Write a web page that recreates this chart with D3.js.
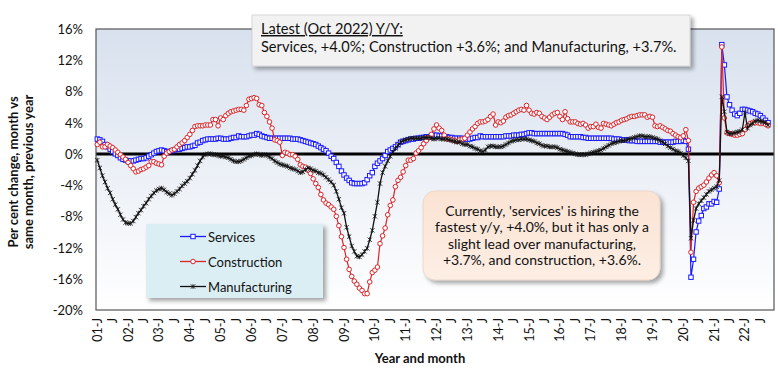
<!DOCTYPE html>
<html><head><meta charset="utf-8">
<script src="https://cdn.jsdelivr.net/npm/d3@7"></script>
<style>
body{margin:0;background:#fff;}
svg{display:block;font-family:Lato,"Open Sans",sans-serif;}
</style></head><body>
<svg id="chart" width="778" height="368"></svg>
<script>
// ---------- DATA ----------
const years = ["01","02","03","04","05","06","07","08","09","10","11","12","13","14","15","16","17","18","19","20","21","22"];
const monthLetters = ["J","F","M","A","M","J","J","A","S","O","N","D"];
const monthsInLastYear = 10; // Jan..Oct 2022
const yTicks = [16,12,8,4,0,-4,-8,-12,-16,-20];
const seriesNames = ["Services","Construction","Manufacturing"];

const services = [
 1.9,1.8,1.6,1.2,0.9,0.6,0.3,0.0,-0.2,-0.5,-0.7,-0.8,
 -0.9,-0.9,-0.9,-0.8,-0.7,-0.6,-0.6,-0.5,-0.3,-0.1,0.1,0.3,
 0.4,0.5,0.4,0.3,0.3,0.4,0.5,0.6,0.6,0.7,0.8,0.9,
 0.9,1.0,1.1,1.4,1.5,1.7,1.8,1.9,1.9,1.9,1.9,2.0,
 2.0,1.9,1.9,1.9,2.0,2.1,2.1,2.3,2.2,2.2,2.2,2.3,
 2.4,2.4,2.6,2.5,2.3,2.2,2.1,2.0,2.0,2.0,2.0,2.0,
 2.0,2.0,2.0,2.0,1.9,1.9,1.9,1.8,1.7,1.6,1.5,1.4,
 1.3,1.2,1.0,0.8,0.6,0.4,0.1,-0.3,-0.6,-1.1,-1.6,-2.2,
 -2.7,-3.1,-3.4,-3.7,-3.8,-3.8,-3.8,-3.8,-3.7,-3.3,-2.8,-2.4,
 -1.6,-1.2,-0.9,-0.6,-0.2,0.3,0.5,0.7,0.9,1.2,1.5,1.6,
 1.7,1.8,1.9,1.9,2.0,2.0,2.1,2.1,2.2,2.2,2.3,2.4,
 2.4,2.3,2.3,2.2,2.2,2.1,2.1,2.0,2.0,2.0,2.0,1.9,
 1.9,1.9,2.0,2.1,2.1,2.3,2.2,2.2,2.2,2.2,2.2,2.2,
 2.2,2.2,2.2,2.3,2.3,2.3,2.4,2.4,2.4,2.5,2.5,2.6,
 2.7,2.7,2.6,2.6,2.6,2.6,2.6,2.6,2.6,2.6,2.6,2.6,
 2.6,2.6,2.5,2.4,2.2,2.2,2.2,2.2,2.2,2.1,2.1,2.0,
 2.0,2.0,2.0,2.0,2.0,2.0,2.0,2.0,2.0,1.9,1.9,1.9,
 1.8,1.8,1.8,1.7,1.7,1.7,1.6,1.6,1.6,1.6,1.6,1.6,
 1.6,1.6,1.6,1.5,1.5,1.5,1.5,1.5,1.5,1.6,1.6,1.6,
 1.7,1.6,0.6,-15.8,-13.5,-10.0,-8.6,-7.9,-7.0,-6.8,-6.4,-6.4,
 -6.1,-6.2,-4.5,14.0,11.4,7.3,6.3,5.6,5.1,4.9,5.2,5.7,
 5.7,5.6,5.5,5.4,5.2,5.1,4.9,4.6,4.3,4.0
];

const construction = [
 1.2,1.5,0.9,0.9,1.2,1.0,0.8,0.5,0.2,-0.1,-0.4,-0.7,
 -1.1,-1.5,-1.9,-2.3,-2.2,-2.0,-1.9,-1.7,-1.5,-1.0,-1.0,-1.2,
 -1.3,-1.4,-0.3,0.1,0.3,0.5,0.6,0.9,1.2,1.4,1.7,2.1,
 2.5,3.0,3.5,3.6,3.6,3.6,3.7,3.7,3.7,4.4,4.4,3.6,
 4.6,4.4,4.9,5.2,5.4,5.5,5.6,5.7,5.7,5.6,6.2,7.0,
 7.1,7.2,7.1,6.3,6.2,5.3,4.8,4.1,3.3,1.8,1.7,1.5,
 -0.2,0.2,0.1,-0.1,-0.1,-0.3,-0.7,-1.4,-1.6,-1.7,-2.1,-2.5,
 -3.2,-3.8,-4.3,-5.2,-5.9,-6.3,-6.5,-6.8,-7.1,-8.0,-9.2,-10.6,
 -12.0,-13.5,-14.8,-15.7,-16.3,-16.7,-17.2,-17.5,-17.9,-17.9,-16.4,-15.2,
 -14.9,-14.5,-11.5,-10.5,-9.5,-7.8,-6.6,-5.9,-4.2,-3.4,-3.0,-2.3,
 -1.5,-0.8,-0.8,-0.6,0.1,0.4,0.8,1.3,1.7,2.1,2.5,3.2,
 3.7,3.3,3.0,2.4,1.9,1.9,1.8,1.7,1.6,1.8,1.9,2.0,
 2.4,2.8,3.2,3.5,3.9,4.1,4.1,4.2,4.4,4.8,5.1,3.7,
 4.1,4.0,4.2,4.7,4.9,5.0,5.2,5.4,5.6,5.7,5.6,6.2,
 5.6,5.2,5.1,5.3,5.2,4.8,4.6,4.4,4.7,5.0,5.2,5.3,
 4.8,4.4,5.4,4.5,4.1,4.1,4.1,3.9,3.8,3.9,3.7,3.3,
 3.5,3.5,3.8,3.4,3.3,3.9,3.8,3.7,3.6,3.8,4.0,4.1,
 4.3,4.4,4.5,4.7,4.8,4.8,4.9,5.0,5.0,5.0,4.7,4.8,
 4.7,3.6,3.5,3.6,3.4,3.2,3.0,2.9,2.6,2.4,2.2,2.1,
 2.3,3.1,1.7,-12.6,-6.2,-4.8,-4.4,-4.2,-4.0,-3.6,-3.1,-2.7,
 -2.4,-2.8,-3.7,13.7,4.6,2.7,2.6,2.5,2.4,2.4,2.5,2.6,
 3.1,3.6,3.9,4.0,4.0,4.0,3.9,3.9,3.8,3.6
];

const manufacturing = [
 -0.8,-1.8,-2.8,-3.6,-4.4,-5.0,-5.8,-6.5,-7.1,-7.8,-8.4,-8.8,
 -8.9,-8.9,-8.6,-8.1,-7.6,-7.2,-6.7,-6.3,-5.8,-5.4,-5.0,-4.7,
 -4.5,-4.4,-4.6,-4.9,-5.1,-5.3,-5.1,-4.8,-4.5,-4.1,-3.8,-3.5,
 -3.1,-2.6,-2.1,-1.5,-0.9,-0.4,-0.1,0.0,0.0,-0.1,-0.1,-0.2,
 -0.3,-0.3,-0.4,-0.5,-0.7,-0.9,-1.0,-1.0,-0.9,-0.7,-0.5,-0.3,
 -0.2,-0.1,0.0,-0.1,-0.2,-0.1,-0.2,-0.4,-0.6,-0.9,-1.1,-1.3,
 -1.4,-1.5,-1.6,-1.8,-1.9,-2.0,-2.2,-2.4,-2.3,-2.0,-1.8,-1.9,
 -2.1,-2.2,-2.4,-2.5,-2.7,-3.0,-3.3,-3.6,-4.0,-4.8,-5.8,-6.9,
 -7.6,-9.4,-10.6,-11.8,-12.5,-13.1,-13.2,-12.9,-12.5,-12.1,-11.0,-9.8,
 -8.0,-6.2,-3.8,-2.4,-1.6,-0.9,-0.3,0.2,0.7,1.1,1.5,1.7,
 1.8,1.9,2.0,2.0,2.0,2.0,2.0,2.1,2.1,2.1,2.0,1.9,
 2.0,2.0,1.9,1.9,1.9,1.8,1.7,1.6,1.5,1.5,1.3,1.2,
 1.2,1.0,0.9,0.7,0.6,0.4,0.3,0.5,0.9,1.0,1.0,0.9,
 0.9,0.9,1.0,1.2,1.4,1.6,1.7,1.8,1.8,1.9,1.9,1.9,
 1.8,1.7,1.6,1.4,1.3,1.1,1.0,1.0,0.9,0.9,0.9,0.8,
 0.6,0.5,0.4,0.3,0.2,0.1,0.0,-0.1,-0.1,-0.1,-0.1,0.0,
 0.1,0.2,0.3,0.4,0.5,0.7,0.9,1.1,1.3,1.4,1.5,1.6,
 1.7,1.7,1.8,1.9,2.0,2.1,2.2,2.3,2.3,2.2,2.2,2.2,
 2.1,2.0,1.9,1.7,1.5,1.3,1.0,0.8,0.6,0.4,0.3,0.1,
 -0.2,-0.5,-0.9,-10.8,-8.5,-7.0,-6.4,-6.0,-5.6,-5.2,-4.8,-4.6,
 -4.4,-4.2,-3.4,7.3,5.4,2.8,2.6,2.6,2.7,2.8,2.9,3.1,
 5.3,3.3,3.7,3.9,4.2,4.3,4.2,4.1,4.0,3.7
];

// ---------- BUILD CATEGORIES ----------
const categories = [];
years.forEach((y, yi) => {
  const n = yi === years.length - 1 ? monthsInLastYear : 12;
  for (let m = 0; m < n; m++) categories.push({key: y + "-" + m, label: m === 0 ? y + "-J" : (m === 6 ? "J" : null)});
});

// ---------- LAYOUT ----------
const svg = d3.select("#chart");
const plot = {left: 96, right: 774, top: 29, bottom: 310};
const step = 2.57;
const x = d3.scalePoint().domain(categories.map(d => d.key))
  .range([plot.left + 1.3, plot.left + 1.3 + step * (categories.length - 1)]);
const y = d3.scaleLinear().domain([-20, 16]).range([plot.bottom, plot.top]);

const defs = svg.append("defs");
const bg = defs.append("linearGradient").attr("id", "bg").attr("x1", 0).attr("y1", 0).attr("x2", 0).attr("y2", 1);
bg.append("stop").attr("offset", "0%").attr("stop-color", "#d8e1ee");
bg.append("stop").attr("offset", "100%").attr("stop-color", "#ffffff");
const peach = defs.append("linearGradient").attr("id", "peach").attr("x1", 0).attr("y1", 0).attr("x2", 0).attr("y2", 1);
peach.append("stop").attr("offset", "0%").attr("stop-color", "#fbe3d3");
peach.append("stop").attr("offset", "100%").attr("stop-color", "#fdeee4");
const sh = defs.append("filter").attr("id", "shadow").attr("x", "-10%").attr("y", "-10%").attr("width", "130%").attr("height", "140%");
sh.append("feDropShadow").attr("dx", 3).attr("dy", 3).attr("stdDeviation", 2).attr("flood-color", "#000").attr("flood-opacity", 0.35);

// plot background
svg.append("rect").attr("x", plot.left).attr("y", plot.top)
  .attr("width", plot.right - plot.left).attr("height", plot.bottom - plot.top)
  .attr("fill", "url(#bg)");

// y axis labels
const fmt = v => v + "%";
svg.append("g").selectAll("text").data(yTicks).join("text")
  .attr("x", 83).attr("y", d => y(d)).attr("text-anchor", "end")
  .attr("dominant-baseline", "central").attr("font-size", 13).attr("fill", "#111")
  .text(fmt);

// y axis title
const yt = svg.append("g").attr("font-size", 13).attr("font-weight", "bold").attr("fill", "#111");
yt.append("text").attr("transform", "translate(12.5,172) rotate(-90)").attr("text-anchor", "middle")
  .attr("dominant-baseline", "central").text("Per cent change, month vs");
yt.append("text").attr("transform", "translate(28,172) rotate(-90)").attr("text-anchor", "middle")
  .attr("dominant-baseline", "central").text("same month, previous year");

// x tick labels
svg.append("g").selectAll("text").data(categories.filter(d => d.label)).join("text")
  .attr("transform", d => `translate(${x(d.key)},318) rotate(-90)`)
  .attr("text-anchor", "end").attr("dominant-baseline", "central")
  .attr("font-size", 12.5).attr("fill", "#111").text(d => d.label);

// x axis title
svg.append("text").attr("x", 420).attr("y", 358).attr("text-anchor", "middle")
  .attr("dominant-baseline", "central").attr("font-size", 13).attr("font-weight", "bold")
  .attr("fill", "#111").text("Year and month");

// zero line
svg.append("line").attr("x1", plot.left).attr("x2", plot.right).attr("y1", y(0)).attr("y2", y(0))
  .attr("stroke", "#000").attr("stroke-width", 3);

// plot border
svg.append("rect").attr("x", plot.left).attr("y", plot.top)
  .attr("width", plot.right - plot.left).attr("height", plot.bottom - plot.top)
  .attr("fill", "none").attr("stroke", "#555").attr("stroke-width", 1.2);

// ---------- SERIES ----------
const line = d3.line().x((d, i) => x(categories[i].key)).y(d => y(d));
const colors = {Services: "#1a1aff", Construction: "#d8262b", Manufacturing: "#111"};
const starPath = "M-2.2,-2.2L2.2,2.2M-2.2,2.2L2.2,-2.2M0,-2.4L0,2.4";

function drawMarker(g, name) {
  if (name === "Services") {
    g.append("rect").attr("x", -2.2).attr("y", -2.2).attr("width", 4.4).attr("height", 4.4)
      .attr("fill", "#fff").attr("stroke", colors.Services).attr("stroke-width", 1);
  } else if (name === "Construction") {
    g.append("circle").attr("r", 2.3).attr("fill", "#fff").attr("stroke", colors.Construction).attr("stroke-width", 1);
  } else {
    g.append("path").attr("d", starPath).attr("stroke", colors.Manufacturing).attr("stroke-width", 0.8).attr("fill", "none");
  }
}

const seriesData = {Services: services, Construction: construction, Manufacturing: manufacturing};
seriesNames.forEach(name => {
  const vals = seriesData[name];
  const g = svg.append("g");
  g.append("path").attr("d", line(vals)).attr("fill", "none")
    .attr("stroke", colors[name]).attr("stroke-width", name === "Manufacturing" ? 1.3 : 1.2);
  g.selectAll("g").data(vals).join("g")
    .attr("transform", (d, i) => `translate(${x(categories[i].key)},${y(d)})`)
    .each(function() { drawMarker(d3.select(this), name); });
});

// ---------- LEGEND ----------
const lg = svg.append("g");
lg.append("rect").attr("x", 146).attr("y", 224).attr("width", 177).attr("height", 74)
  .attr("fill", "#dbeef4").attr("filter", "url(#shadow)");
seriesNames.forEach((name, i) => {
  const yy = 236.5 + i * 25;
  lg.append("line").attr("x1", 180).attr("x2", 206).attr("y1", yy).attr("y2", yy)
    .attr("stroke", colors[name]).attr("stroke-width", 1.3);
  const m = lg.append("g").attr("transform", `translate(193,${yy})`);
  drawMarker(m, name);
  lg.append("text").attr("x", 208).attr("y", yy).attr("dominant-baseline", "central")
    .attr("font-size", 13).attr("fill", "#111").text(name);
});

// ---------- TOP NOTE ----------
const tn = svg.append("g");
tn.append("rect").attr("x", 252).attr("y", 15).attr("width", 438).attr("height", 51)
  .attr("fill", "#f2f2f2").attr("stroke", "#d0d0d0").attr("stroke-width", 0.8).attr("filter", "url(#shadow)");
tn.append("text").attr("x", 261).attr("y", 34).attr("font-size", 14.6).attr("fill", "#111")
  .attr("text-decoration", "underline").text("Latest (Oct 2022) Y/Y:");
tn.append("text").attr("x", 261).attr("y", 52).attr("font-size", 14.6).attr("fill", "#111")
  .text("Services, +4.0%; Construction +3.6%; and Manufacturing, +3.7%.");

// ---------- CALLOUT ----------
const co = svg.append("g");
co.append("rect").attr("x", 423).attr("y", 191).attr("width", 237).attr("height", 89).attr("rx", 12)
  .attr("fill", "url(#peach)").attr("stroke", "#e6cbb8").attr("stroke-width", 0.6).attr("filter", "url(#shadow)");
const calloutLines = ["Currently, 'services' is hiring the", "fastest y/y, +4.0%, but it has only a",
  "slight lead over manufacturing,", "+3.7%, and construction, +3.6%."];
co.selectAll("text").data(calloutLines).join("text")
  .attr("x", 542).attr("y", (d, i) => 210 + i * 16.5).attr("text-anchor", "middle")
  .attr("dominant-baseline", "central").attr("font-size", 14).attr("fill", "#111").text(d => d);
</script>
</body></html>
